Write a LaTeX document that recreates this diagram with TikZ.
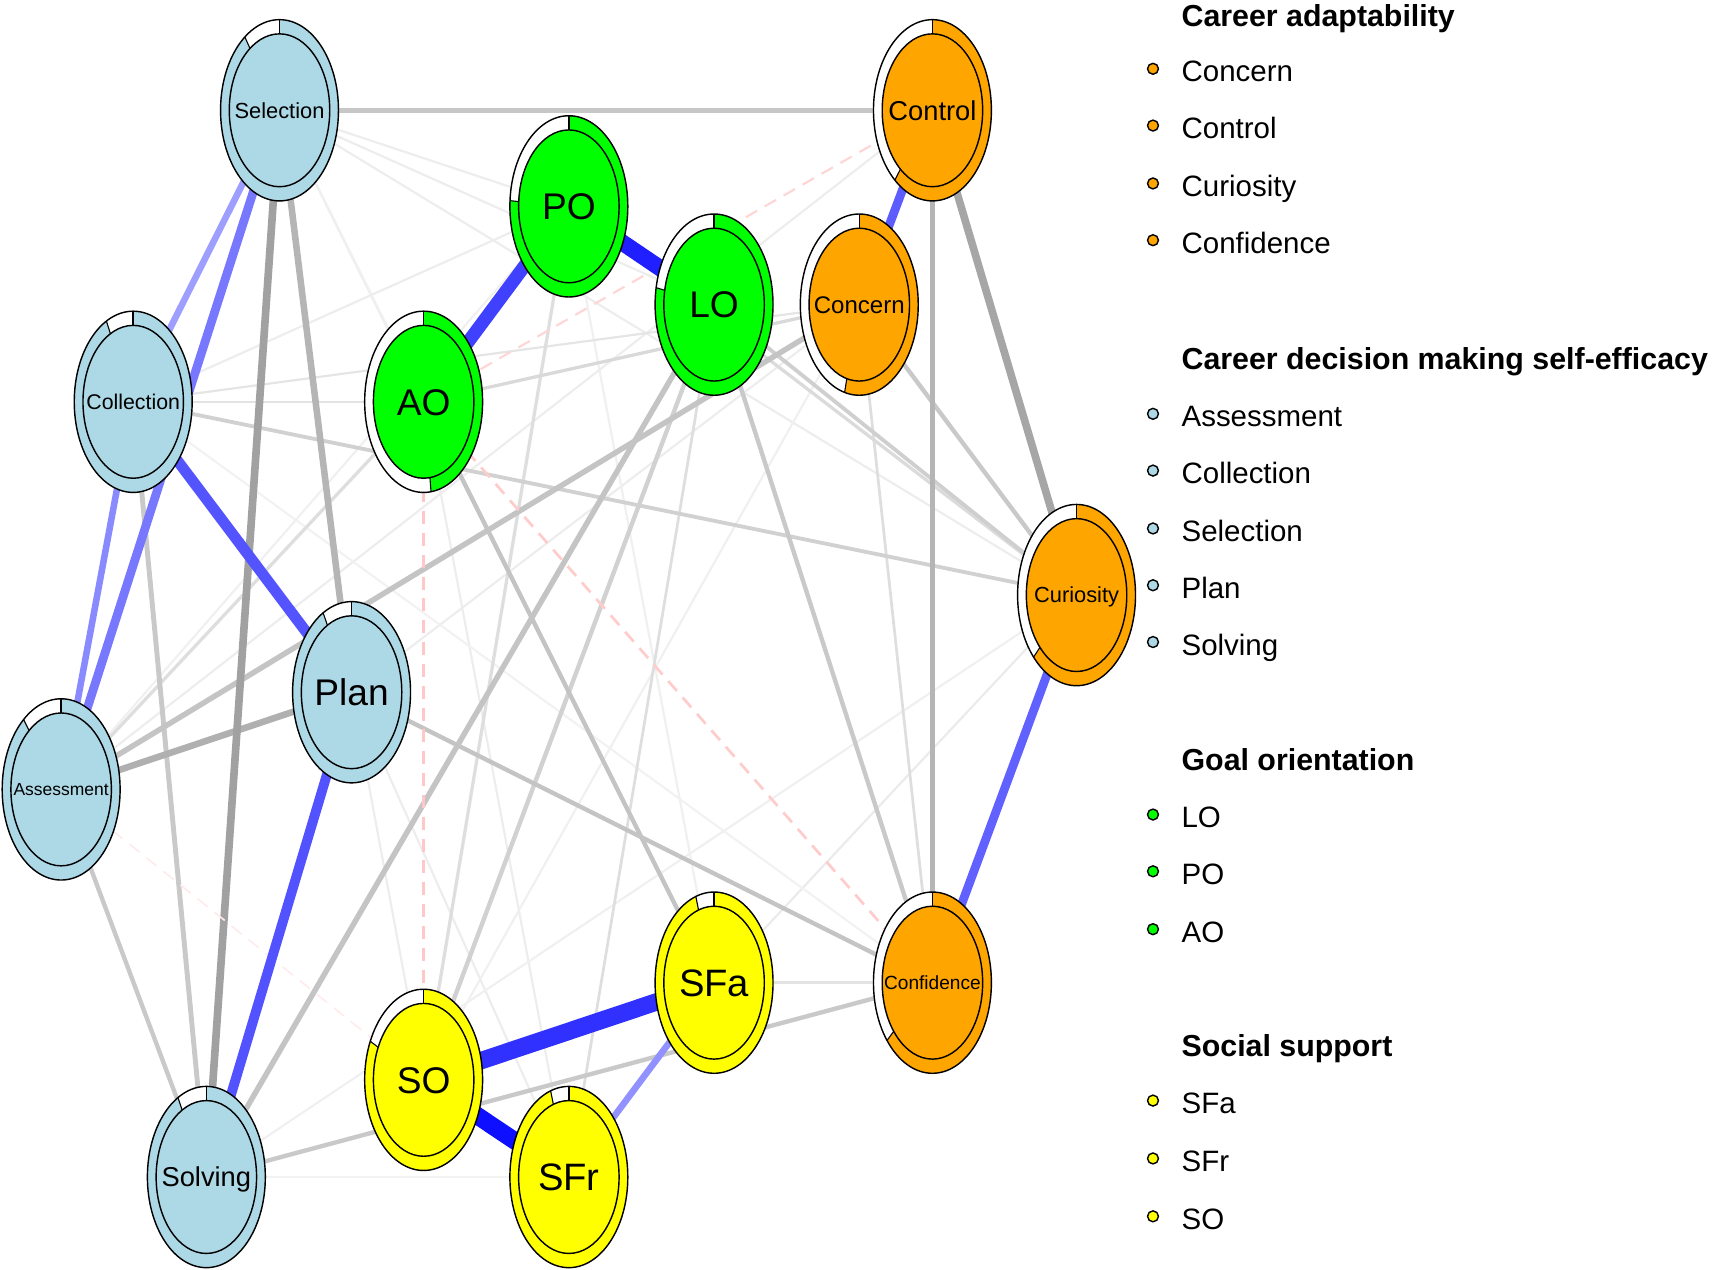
\documentclass[tikz,border=0pt]{standalone}
\usepackage{fontspec}
\setmainfont{Liberation Sans}
\definecolor{nblue}{HTML}{ADD8E6}
\definecolor{norange}{HTML}{FFA500}
\definecolor{ngreen}{HTML}{00FF00}
\definecolor{nyellow}{HTML}{FFFF00}
% #1 name, #2 colour, #3 fraction, #4 label, #5 font size
\newcommand\netnode[5]{%
  \begin{scope}[shift={(#1)}]
    \pgfmathsetmacro\nodeEA{-90+360*#3}
    \pgfmathsetmacro\nodeBL{0.358*#5}
    \fill[white] (0,0) ellipse[x radius=54,y radius=83];
    \fill[#2] (0,-83) arc[start angle=-90,end angle=\nodeEA,x radius=54,y radius=83]
      -- ({46*cos(\nodeEA)},{70*sin(\nodeEA)})
      arc[start angle=\nodeEA,end angle=-90,x radius=46,y radius=70] -- cycle;
    \draw[line width=1.3pt] (0,0) ellipse[x radius=54,y radius=83];
    \draw[line width=1.3pt,fill=#2] (0,0) ellipse[x radius=46,y radius=70];
    \draw[line width=1.3pt] (0,-70) -- (0,-83);
    \draw[line width=1pt] ({46*cos(\nodeEA)},{70*sin(\nodeEA)}) -- ({54*cos(\nodeEA)},{83*sin(\nodeEA)});
    \node[anchor=base,inner sep=0pt,font=\fontsize{#5}{#5}\selectfont] (lab-#1) at (0,\nodeBL) {#4};
  \end{scope}}
\begin{document}
\begin{tikzpicture}[x=1pt,y=-1pt,
  e/.style 2 args={draw=#1,line width=#2pt},
  pe/.style 2 args={draw=#1,line width=#2pt,dash pattern=on 12pt off 8pt},
  dot/.style={circle,draw=black,line width=1.3pt,fill=#1,minimum size=10pt,inner sep=0pt},
  leg/.style={anchor=base west,inner sep=0pt,font=\fontsize{27}{27}\selectfont},
  legh/.style={anchor=base west,inner sep=0pt,font=\fontsize{27.8}{27.8}\selectfont\bfseries}]
\useasboundingbox (0,0) rectangle (1568,1163);
% node positions
\coordinate (Sel) at (256,101);
\coordinate (Ctrl) at (854,101);
\coordinate (PO) at (521,189);
\coordinate (LO) at (654,279);
\coordinate (Conc) at (787,279);
\coordinate (Coll) at (122,368);
\coordinate (AO) at (388,368);
\coordinate (Curi) at (986,545);
\coordinate (Plan) at (322,634);
\coordinate (Ass) at (56,723);
\coordinate (SFa) at (654,900);
\coordinate (Conf) at (854,900);
\coordinate (SO) at (388,989);
\coordinate (Solv) at (189,1078);
\coordinate (SFr) at (521,1078);
% faint edges
\draw[e={black!7}{2}] (Sel) -- (PO);
\draw[e={black!7}{2}] (Sel) -- (LO);
\draw[e={black!7}{2}] (Sel) -- (AO);
\draw[e={black!7}{2}] (Sel) -- (Curi);
\draw[e={black!6}{2}] (Sel) -- (SFa);
\draw[e={black!11}{2}] (Coll) -- (AO);
\draw[e={black!7}{2}] (Coll) -- (PO);
\draw[e={black!6}{2}] (Ass) -- (PO);
\draw[e={black!7}{2}] (Plan) -- (Conc);
\draw[e={black!7}{2}] (Plan) -- (SFr);
\draw[e={black!7}{2}] (Plan) -- (SO);
\draw[e={black!6}{2}] (PO) -- (SFa);
\draw[e={black!7}{2}] (AO) -- (SFr);
\draw[e={black!8}{2}] (Curi) -- (SFa);
\draw[e={black!6}{2}] (Solv) -- (Curi);
\draw[e={black!5}{2}] (Solv) -- (SFr);
\draw[e={black!7}{2}] (Ctrl) -- (Ass);
\draw[e={black!6}{2}] (Conc) -- (SO);
\draw[e={black!5}{2}] (Coll) -- (Conf);
\draw[e={black!10}{2}] (Coll) -- (Conc);
% light edges
\draw[e={black!13}{3}] (Ass) -- (AO);
\draw[e={black!13}{3}] (PO) -- (SO);
\draw[e={black!13}{2.5}] (LO) -- (SFr);
\draw[e={black!13}{2.5}] (Conc) -- (Conf);
\draw[e={black!15}{3}] (AO) -- (Conc);
\draw[e={black!11}{3}] (SFa) -- (Conf);
\draw[e={black!14}{3}] (PO) -- (Curi);
% medium grey edges
\draw[e={black!18}{3.5}] (Coll) -- (Curi);
\draw[e={black!19}{3.5}] (LO) -- (Curi);
\draw[e={black!18}{4}] (LO) -- (SO);
\draw[e={black!21}{4}] (Solv) -- (Conf);
\draw[e={black!21}{4}] (Conc) -- (Curi);
\draw[e={black!21}{4}] (Ass) -- (Solv);
\draw[e={black!21}{4.5}] (Coll) -- (Solv);
\draw[e={black!23}{5}] (Solv) -- (LO);
\draw[e={black!23}{4}] (AO) -- (SFa);
\draw[e={black!21}{4}] (LO) -- (Conf);
\draw[e={black!23}{4}] (Plan) -- (Conf);
\draw[e={black!23}{5}] (Ass) -- (Conc);
\draw[e={black!31}{6}] (Ass) -- (Plan);
\draw[e={black!29}{5}] (Ctrl) -- (Conf);
\draw[e={black!22}{5}] (Sel) -- (Ctrl);
\draw[e={black!29}{6}] (Sel) -- (Plan);
\draw[e={black!35}{7}] (Ctrl) -- (Curi);
\draw[e={black!37}{7}] (Sel) -- (Solv);
% negative (dashed) edges
\draw[pe={red!8}{1.5}] (Ass) -- (SO);
\draw[pe={red!16}{2}] (AO) -- (Ctrl);
\draw[pe={red!20}{2.5}] (AO) -- (Conf);
\draw[pe={red!22}{3}] (AO) -- (SO);
% blue edges
\draw[e={blue!38}{6}] (Sel) -- (Coll);
\draw[e={blue!46}{6}] (Coll) -- (Ass);
\draw[e={blue!43}{6}] (SFa) -- (SFr);
\draw[e={blue!53}{8}] (Sel) -- (Ass);
\draw[e={blue!64}{8}] (Ctrl) -- (Conc);
\draw[e={blue!62}{8}] (Curi) -- (Conf);
\draw[e={blue!68}{9}] (Plan) -- (Solv);
\draw[e={blue!67}{10}] (Coll) -- (Plan);
\draw[e={blue!75}{12}] (PO) -- (AO);
\draw[e={blue!88}{15}] (PO) -- (LO);
\draw[e={blue!81}{16}] (SO) -- (SFa);
\draw[e={blue!94}{16}] (SO) -- (SFr);
% nodes
\netnode{Sel}{nblue}{0.90}{Selection}{20}
\netnode{Ctrl}{norange}{0.61}{Control}{25}
\netnode{PO}{ngreen}{0.76}{PO}{34}
\netnode{LO}{ngreen}{0.78}{LO}{34}
\netnode{Conc}{norange}{0.54}{Concern}{22}
\netnode{Coll}{nblue}{0.925}{Collection}{19.5}
\netnode{AO}{ngreen}{0.48}{AO}{34}
\netnode{Curi}{norange}{0.63}{Curiosity}{20}
\netnode{Plan}{nblue}{0.92}{Plan}{34}
\netnode{Ass}{nblue}{0.89}{Assessment}{16}
\netnode{SFa}{nyellow}{0.95}{SFa}{35}
\netnode{Conf}{norange}{0.64}{Confidence}{17.5}
\netnode{SO}{nyellow}{0.82}{SO}{34}
\netnode{Solv}{nblue}{0.92}{Solving}{25}
\netnode{SFr}{nyellow}{0.95}{SFr}{35}
% legend
\node[legh] (h1) at (1082,24) {Career adaptability};
\node[dot=norange] (d1) at (1056,63) {}; \node[leg] (t1) at (1082,75) {Concern};
\node[dot=norange] (d2) at (1056,115) {}; \node[leg] (t2) at (1082,127) {Control};
\node[dot=norange] (d3) at (1056,168) {}; \node[leg] (t3) at (1082,180) {Curiosity};
\node[dot=norange] (d4) at (1056,220) {}; \node[leg] (t4) at (1082,232) {Confidence};
\node[legh] (h2) at (1082,338) {Career decision making self-efficacy};
\node[dot=nblue] (d5) at (1056,379) {}; \node[leg] (t5) at (1082,391) {Assessment};
\node[dot=nblue] (d6) at (1056,431) {}; \node[leg] (t6) at (1082,443) {Collection};
\node[dot=nblue] (d7) at (1056,484) {}; \node[leg] (t7) at (1082,496) {Selection};
\node[dot=nblue] (d8) at (1056,536) {}; \node[leg] (t8) at (1082,548) {Plan};
\node[dot=nblue] (d9) at (1056,588) {}; \node[leg] (t9) at (1082,600) {Solving};
\node[legh] (h3) at (1082,706) {Goal orientation};
\node[dot=ngreen] (d10) at (1056,746) {}; \node[leg] (t10) at (1082,758) {LO};
\node[dot=ngreen] (d11) at (1056,798) {}; \node[leg] (t11) at (1082,810) {PO};
\node[dot=ngreen] (d12) at (1056,851) {}; \node[leg] (t12) at (1082,863) {AO};
\node[legh] (h4) at (1082,968) {Social support};
\node[dot=nyellow] (d13) at (1056,1008) {}; \node[leg] (t13) at (1082,1020) {SFa};
\node[dot=nyellow] (d14) at (1056,1061) {}; \node[leg] (t14) at (1082,1073) {SFr};
\node[dot=nyellow] (d15) at (1056,1114) {}; \node[leg] (t15) at (1082,1126) {SO};
\end{tikzpicture}
\end{document}
